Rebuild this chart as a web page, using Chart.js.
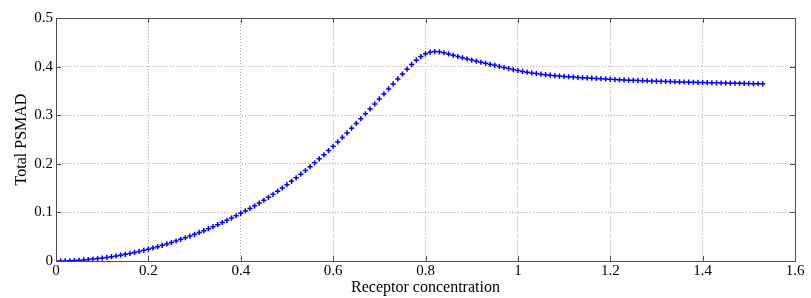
<!DOCTYPE html>
<html>
<head>
<meta charset="utf-8">
<script src="https://cdn.jsdelivr.net/npm/chart.js@4/dist/chart.umd.min.js"></script>
<style>
  html, body { margin: 0; padding: 0; background: #fff; }
  #wrap { width: 811px; height: 298px; }
</style>
</head>
<body>
<div id="wrap"><canvas id="chart"></canvas></div>
<script>
// Data (x step 0.01 from 0 to 1.53)
const receptor = [];
for (let i = 0; i <= 153; i++) receptor.push(+(i / 100).toFixed(2));

const psmad = [
  0.0000, 0.0001, 0.0002, 0.0005, 0.0010, 0.0015, 0.0022, 0.0030, 0.0039, 0.0049,
  0.0061, 0.0074, 0.0088, 0.0103, 0.0120, 0.0137, 0.0156, 0.0176, 0.0198, 0.0220,
  0.0244, 0.0269, 0.0295, 0.0323, 0.0351, 0.0381, 0.0412, 0.0445, 0.0478, 0.0513,
  0.0549, 0.0587, 0.0625, 0.0665, 0.0706, 0.0748, 0.0792, 0.0837, 0.0883, 0.0931,
  0.0980, 0.1030, 0.1082, 0.1136, 0.1192, 0.1250, 0.1310, 0.1372, 0.1436, 0.1502,
  0.1570, 0.1640, 0.1712, 0.1786, 0.1862, 0.1940, 0.2020, 0.2102, 0.2186, 0.2272,
  0.2360, 0.2450, 0.2542, 0.2636, 0.2732, 0.2830, 0.2929, 0.3029, 0.3130, 0.3232,
  0.3335, 0.3437, 0.3540, 0.3643, 0.3746, 0.3848, 0.3948, 0.4044, 0.4132, 0.4207,
  0.4262, 0.4296, 0.4310, 0.4303, 0.4285, 0.4260, 0.4233, 0.4207, 0.4182, 0.4158,
  0.4135, 0.4112, 0.4090, 0.4068, 0.4047, 0.4026, 0.4003, 0.3981, 0.3959, 0.3938,
  0.3918, 0.3900, 0.3884, 0.3869, 0.3856, 0.3844, 0.3833, 0.3823, 0.3814, 0.3806,
  0.3798, 0.3791, 0.3784, 0.3778, 0.3772, 0.3766, 0.3761, 0.3756, 0.3751, 0.3746,
  0.3738, 0.3733, 0.3729, 0.3725, 0.3721, 0.3717, 0.3713, 0.3710, 0.3706, 0.3703,
  0.3700, 0.3697, 0.3694, 0.3691, 0.3688, 0.3685, 0.3683, 0.3680, 0.3678, 0.3675,
  0.3673, 0.3670, 0.3668, 0.3666, 0.3663, 0.3661, 0.3659, 0.3657, 0.3655, 0.3653,
  0.3651, 0.3649, 0.3647, 0.3645
];

const xTicks = [0, 0.2, 0.4, 0.6, 0.8, 1, 1.2, 1.4, 1.6];
const yTicks = [0, 0.1, 0.2, 0.3, 0.4, 0.5];

const points = receptor.map((x, i) => ({ x: x, y: psmad[i] }));

// Box around the plot and MATLAB-style inward ticks
const boxPlugin = {
  id: 'box',
  afterDraw(chart) {
    const { ctx, chartArea: a, scales } = chart;
    ctx.save();
    ctx.strokeStyle = '#4d4d4d';
    ctx.lineWidth = 1;
    ctx.beginPath();
    xTicks.forEach(v => {
      const px = Math.round(scales.x.getPixelForValue(v)) + 0.5;
      ctx.moveTo(px, a.bottom); ctx.lineTo(px, a.bottom - 5);
      ctx.moveTo(px, a.top); ctx.lineTo(px, a.top + 5);
    });
    yTicks.forEach(v => {
      const py = Math.round(scales.y.getPixelForValue(v)) + 0.5;
      ctx.moveTo(a.left, py); ctx.lineTo(a.left + 5, py);
      ctx.moveTo(a.right, py); ctx.lineTo(a.right - 5, py);
    });
    ctx.stroke();
    ctx.strokeRect(Math.round(a.left) + 0.5, Math.round(a.top) + 0.5,
      Math.round(a.right - a.left), Math.round(a.bottom - a.top));
    ctx.restore();
  }
};

const font = { family: '"Liberation Serif", "Times New Roman", serif' };

new Chart(document.getElementById('chart').getContext('2d'), {
  type: 'scatter',
  data: {
    datasets: [{
      data: points,
      showLine: false,
      pointStyle: 'cross',
      pointRadius: 2.6,
      pointBorderWidth: 1.5,
      borderColor: '#0000ff',
      backgroundColor: '#0000ff'
    }]
  },
  options: {
    responsive: true,
    maintainAspectRatio: false,
    animation: false,
    layout: { padding: { top: 18, right: 16, left: 0, bottom: 0 } },
    plugins: { legend: { display: false }, tooltip: { enabled: false } },
    scales: {
      x: {
        type: 'linear',
        min: 0, max: 1.6,
        afterBuildTicks: s => { s.ticks = xTicks.map(v => ({ value: v })); },
        afterFit: s => { s.height = 37; },
        grid: { color: '#a8a8a8', drawTicks: false, lineWidth: 1 },
        border: { display: false, dash: [1, 2] },
        ticks: { color: '#000', padding: 1, font: { ...font, size: 15 }, maxRotation: 0,
          callback: v => String(v) },
        title: { display: true, text: 'Receptor concentration', color: '#000',
          font: { ...font, size: 16 }, padding: { top: 0, bottom: 1 } }
      },
      y: {
        type: 'linear',
        min: 0, max: 0.5,
        afterBuildTicks: s => { s.ticks = yTicks.map(v => ({ value: v })); },
        afterFit: s => { s.width = 56; },
        grid: { color: '#a8a8a8', drawTicks: false, lineWidth: 1 },
        border: { display: false, dash: [1, 2] },
        ticks: { color: '#000', padding: 3, font: { ...font, size: 15 },
          callback: v => String(v) },
        title: { display: true, text: 'Total PSMAD', color: '#000',
          font: { ...font, size: 16 }, padding: { top: 12, bottom: 0 } }
      }
    }
  },
  plugins: [boxPlugin]
});
</script>
</body>
</html>
